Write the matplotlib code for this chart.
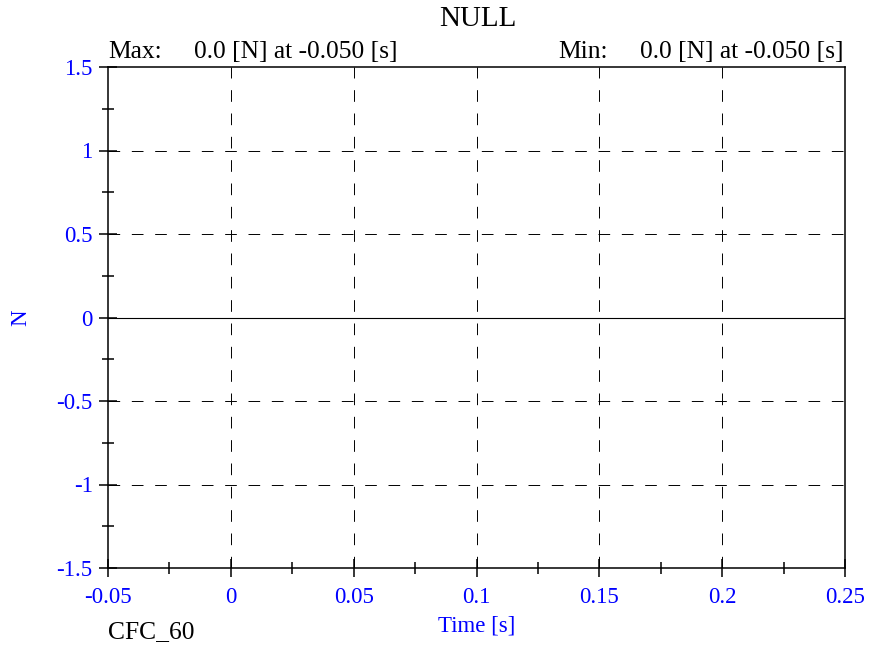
import matplotlib.pyplot as plt
from matplotlib.ticker import MultipleLocator

plt.rcParams['font.family'] = ['Liberation Serif', 'DejaVu Serif']

# signal data (NULL channel, flat zero)
time_s = [-0.05, 0.25]
force_n = [0.0, 0.0]

x_ticks = [-0.05, 0, 0.05, 0.1, 0.15, 0.2, 0.25]
x_labels = ['-0.05', '0', '0.05', '0.1', '0.15', '0.2', '0.25']
y_ticks = [-1.5, -1, -0.5, 0, 0.5, 1, 1.5]
y_labels = ['-1.5', '-1', '-0.5', '0', '0.5', '1', '1.5']

fig = plt.figure(figsize=(8.84, 6.47), dpi=100)
ax = fig.add_axes([108 / 884, 1 - 568 / 647, (845 - 108) / 884, (568 - 67) / 647])

ax.plot(time_s, force_n, color='black', linewidth=0.8)

ax.set_xlim(-0.05, 0.25)
ax.set_ylim(-1.5, 1.5)
ax.set_xticks(x_ticks)
ax.set_xticklabels(x_labels)
ax.set_yticks(y_ticks)
ax.set_yticklabels(y_labels)
ax.xaxis.set_minor_locator(MultipleLocator(0.025))
ax.yaxis.set_minor_locator(MultipleLocator(0.25))

ax.tick_params(which='both', direction='inout', colors='black', labelcolor='blue',
               labelsize=16.5, width=1.1)
ax.tick_params(which='major', length=13)
ax.tick_params(axis='x', which='major', pad=7)
ax.tick_params(axis='y', which='major', pad=4.5)
ax.tick_params(which='minor', length=8)

for xv in x_ticks[1:-1]:
    ax.axvline(xv, color='black', linewidth=0.7, linestyle=(0, (12, 12)))
for yv in [-1, -0.5, 0.5, 1]:
    ax.axhline(yv, color='black', linewidth=0.7, linestyle=(0, (12, 12)))

for s in ax.spines.values():
    s.set_linewidth(1.1)

ax.set_ylabel('N', color='blue', fontsize=16.5)
ax.yaxis.set_label_coords(-0.1045, 0.5)
ax.set_xlabel('Time [s]', color='blue', fontsize=16.5)
ax.xaxis.set_label_coords(0.5, -0.094)

fig.text(478 / 884, 1 - 19 / 647, 'NULL', ha='center', va='center', fontsize=21)
fig.text(108 / 884, 1 - 58 / 647, 'Max:', ha='left', va='baseline', fontsize=18.4)
fig.text(194 / 884, 1 - 58 / 647, '0.0 [N] at -0.050 [s]', ha='left', va='baseline', fontsize=18.4)
fig.text(558 / 884, 1 - 58 / 647, 'Min:', ha='left', va='baseline', fontsize=18.4)
fig.text(843 / 884, 1 - 58 / 647, '0.0 [N] at -0.050 [s]', ha='right', va='baseline', fontsize=18.4)
fig.text(108 / 884, 1 - 632 / 647, 'CFC_60', ha='left', va='center', fontsize=18.4)

fig.savefig('out.png', dpi=100)
